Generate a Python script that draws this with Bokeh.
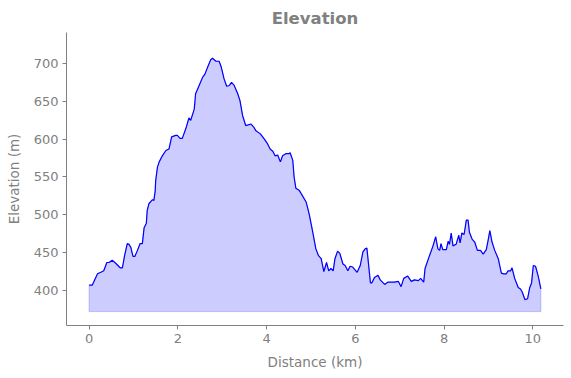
from bokeh.plotting import figure
from bokeh.embed import file_html
from bokeh.resources import INLINE
from bokeh.models import Range1d, FixedTicker

distance_km = [0.00, 0.07, 0.19, 0.30, 0.33, 0.40, 0.45, 0.52, 0.60, 0.70, 0.75, 0.80, 0.86, 0.90,
               0.94, 0.99, 1.03, 1.09, 1.15, 1.20, 1.24, 1.29, 1.31, 1.35, 1.43, 1.46, 1.49,
               1.50, 1.54, 1.58, 1.65, 1.73, 1.80, 1.86, 1.95, 1.99, 2.05, 2.10, 2.18, 2.25,
               2.29, 2.35, 2.37, 2.40, 2.48, 2.56, 2.61, 2.67, 2.74, 2.78, 2.86, 2.93, 2.98,
               3.04, 3.10, 3.16, 3.21, 3.27, 3.35, 3.40, 3.46, 3.53, 3.65, 3.71, 3.76, 3.86,
               3.95, 4.02, 4.08, 4.14, 4.19, 4.25, 4.31, 4.36, 4.44, 4.51, 4.53, 4.59, 4.62,
               4.66, 4.74, 4.89, 4.96, 5.04, 5.11, 5.17, 5.23, 5.29, 5.35, 5.40, 5.45, 5.50,
               5.54, 5.60, 5.65, 5.72, 5.77, 5.83, 5.88, 5.94, 6.04, 6.11, 6.17, 6.22, 6.26,
               6.34, 6.37, 6.43, 6.51, 6.56, 6.66, 6.73, 6.88, 6.97, 7.03, 7.09, 7.18, 7.26,
               7.33, 7.42, 7.47, 7.54, 7.57, 7.67, 7.75, 7.81, 7.86, 7.90, 7.93, 7.97, 8.05,
               8.09, 8.12, 8.16, 8.20, 8.27, 8.33, 8.36, 8.40, 8.45, 8.50, 8.54, 8.57, 8.63,
               8.69, 8.75, 8.82, 8.88, 8.95, 8.99, 9.03, 9.08, 9.14, 9.22, 9.29, 9.34, 9.40,
               9.44, 9.50, 9.53, 9.59, 9.67, 9.72, 9.76, 9.82, 9.88, 9.93, 9.97, 10.01, 10.06,
               10.12, 10.18]
elevation_m = [407, 407, 422, 425, 426, 437, 437, 440, 436, 430, 430, 446, 462, 461,
               457, 445, 445, 453, 462, 462, 483, 489, 506, 515, 520, 519, 532,
               545, 563, 570, 578, 585, 587, 603, 605, 605, 601, 601, 614, 628,
               625, 636, 640, 660, 671, 682, 686, 695, 705, 707, 703, 703, 695,
               680, 670, 671, 675, 671, 660, 651, 631, 618, 620, 616, 611, 607,
               600, 594, 587, 584, 578, 579, 570, 578, 581, 581, 582, 572, 550,
               535, 532, 517, 501, 477, 455, 446, 442, 425, 437, 426, 429, 426,
               442, 452, 449, 435, 433, 426, 432, 431, 424, 433, 451, 455, 456,
               410, 410, 417, 420, 414, 408, 411, 411, 412, 405, 416, 419, 412,
               414, 413, 416, 411, 429, 446, 459, 471, 455, 453, 462, 454, 454,
               465, 461, 476, 459, 461, 473, 463, 476, 474, 493, 493, 477, 468,
               464, 453, 453, 448, 454, 466, 479, 464, 453, 442, 423, 422, 422,
               426, 426, 430, 416, 404, 402, 398, 388, 389, 404, 410, 433, 432,
               419, 402]

x_ticks = [0, 2, 4, 6, 8, 10]
y_ticks = [400, 450, 500, 550, 600, 650, 700]

lo, hi = min(elevation_m), max(elevation_m)
baseline = lo - 0.05 * (hi - lo)

GRAY = "#808080"
FONT = "DejaVu Sans"

p = figure(width=571, height=378, output_backend="svg", toolbar_location=None,
           x_range=Range1d(-0.509, 10.69), y_range=Range1d(353.7, 741.0),
           min_border_left=66, min_border_right=8, min_border_top=32, min_border_bottom=53)

p.title.text = "Elevation"
p.title.align = "center"
p.title.text_color = GRAY
p.title.text_font = FONT
p.title.text_font_size = "16.5px"
p.title.text_font_style = "bold"

p.varea(x=distance_km, y1=[baseline] * len(distance_km), y2=elevation_m,
        fill_color="blue", fill_alpha=0.2)
px = [distance_km[0]] + distance_km + [distance_km[-1]]
py = [baseline] + elevation_m + [baseline]
p.patch(px, py, fill_alpha=0, line_color="blue", line_alpha=0.2, line_width=1)
p.line(distance_km, elevation_m, line_color="blue", line_width=1.2)

p.xgrid.visible = False
p.ygrid.visible = False
p.outline_line_color = None

p.xaxis.ticker = FixedTicker(ticks=x_ticks)
p.yaxis.ticker = FixedTicker(ticks=y_ticks)
p.xaxis.axis_label = "Distance (km)"
p.yaxis.axis_label = "Elevation (m)"

for ax in (p.xaxis, p.yaxis):
    ax.axis_line_color = GRAY
    ax.major_tick_line_color = GRAY
    ax.minor_tick_line_color = None
    ax.major_tick_in = 0
    ax.major_tick_out = 4
    ax.major_label_standoff = 4
    ax.major_label_text_color = GRAY
    ax.major_label_text_font = FONT
    ax.major_label_text_font_size = "13px"
    ax.axis_label_text_color = GRAY
    ax.axis_label_text_font = FONT
    ax.axis_label_text_font_size = "13.5px"
    ax.axis_label_text_font_style = "normal"

p.xaxis.axis_label_standoff = 8
p.yaxis.axis_label_standoff = 9

open("out.html", "w").write(file_html(p, INLINE))
